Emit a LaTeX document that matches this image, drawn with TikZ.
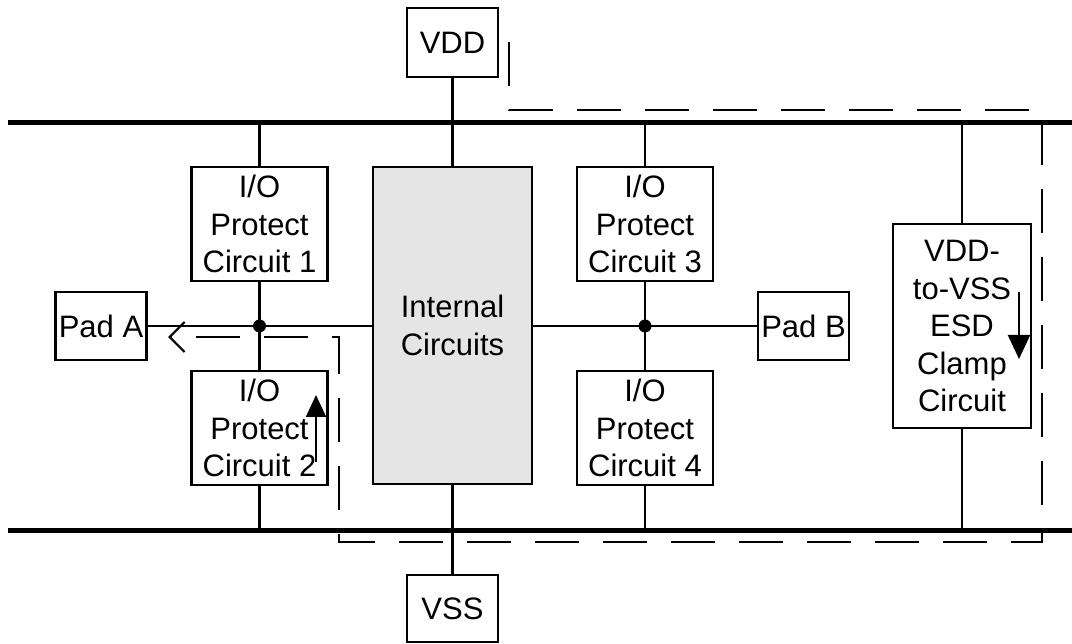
\documentclass[tikz,border=0pt]{standalone}
\usepackage{fontspec}
\setmainfont{Liberation Sans}
\usetikzlibrary{arrows.meta}

\begin{document}
\begin{tikzpicture}[x=1pt,y=-1pt,
    blk/.style={draw,line width=2.2pt,inner sep=0pt,align=center,
      font=\fontsize{31}{37.5}\selectfont},
    iobox/.style={blk,minimum width=136pt,minimum height=114pt},
    padbox/.style={blk,minimum width=91pt,minimum height=68pt},
    wire/.style={line width=2.2pt},
    bus/.style={line width=5pt},
    esdpath/.style={line width=2.2pt,dash pattern=on 44pt off 24pt}]
  \useasboundingbox (0,0) rectangle (1072,644);
  % rails
  \coordinate (vddL) at (8,123);
  \coordinate (vddR) at (1072,123);
  \coordinate (vssL) at (8,530);
  \coordinate (vssR) at (1072,530);
  \draw[bus] (vddL) -- (vddR);
  \draw[bus] (vssL) -- (vssR);
  % blocks
  \node[blk,minimum width=91pt,minimum height=69pt] (vdd) at (452.5,42.5) {VDD};
  \node[blk,minimum width=91pt,minimum height=67pt] (vss) at (452.5,608.5) {VSS};
  \node[blk,fill=gray!20,minimum width=159pt,minimum height=317pt] (core) at (452.5,325.5) {Internal\\Circuits};
  \node[iobox] (io1) at (259.5,224) {I/O\\Protect\\Circuit 1};
  \node[iobox] (io2) at (259.5,428) {I/O\\Protect\\Circuit 2};
  \node[iobox] (io3) at (645,224) {I/O\\Protect\\Circuit 3};
  \node[iobox] (io4) at (645,428) {I/O\\Protect\\Circuit 4};
  \node[padbox] (padA) at (101,326) {Pad A};
  \node[padbox] (padB) at (803.5,326) {Pad B};
  \node[blk,minimum width=138pt,minimum height=204pt] (clamp) at (962,326) {VDD-\\to-VSS\\ESD\\Clamp\\Circuit};
  % wiring
  \coordinate (j1) at (io1.south |- padA.east);
  \coordinate (j2) at (io3.south |- padB.west);
  \draw[wire] (vdd.south) -- (core.north);
  \draw[wire] (core.south) -- (vss.north);
  \draw[wire] (padA.east) -- (core.west |- padA.east);
  \draw[wire] (core.east |- padB.west) -- (padB.west);
  \draw[wire] (io1.north) -- (io1.north |- vddL);
  \draw[wire] (io1.south) -- (io2.north);
  \draw[wire] (io2.south) -- (io2.south |- vssL);
  \draw[wire] (io3.north) -- (io3.north |- vddL);
  \draw[wire] (io3.south) -- (io4.north);
  \draw[wire] (io4.south) -- (io4.south |- vssL);
  \draw[wire] (clamp.north) -- (clamp.north |- vddL);
  \draw[wire] (clamp.south) -- (clamp.south |- vssL);
  \fill (j1) circle (6.5);
  \fill (j2) circle (6.5);
  % discharge path
  \draw[wire,-{Triangle[length=22pt,width=20pt]}] (316,462) -- (316,395);
  \draw[wire,-{Triangle[length=24pt,width=22pt]}] (1019,292) -- (1019,359);
  \draw[esdpath,-{Straight Barb[length=15pt,width=30pt]}] (509,42) -- (509,110) -- (1042,110)
    -- (1042,542) -- (339,542) -- (339,337) -- (168,337);
\end{tikzpicture}
\end{document}
